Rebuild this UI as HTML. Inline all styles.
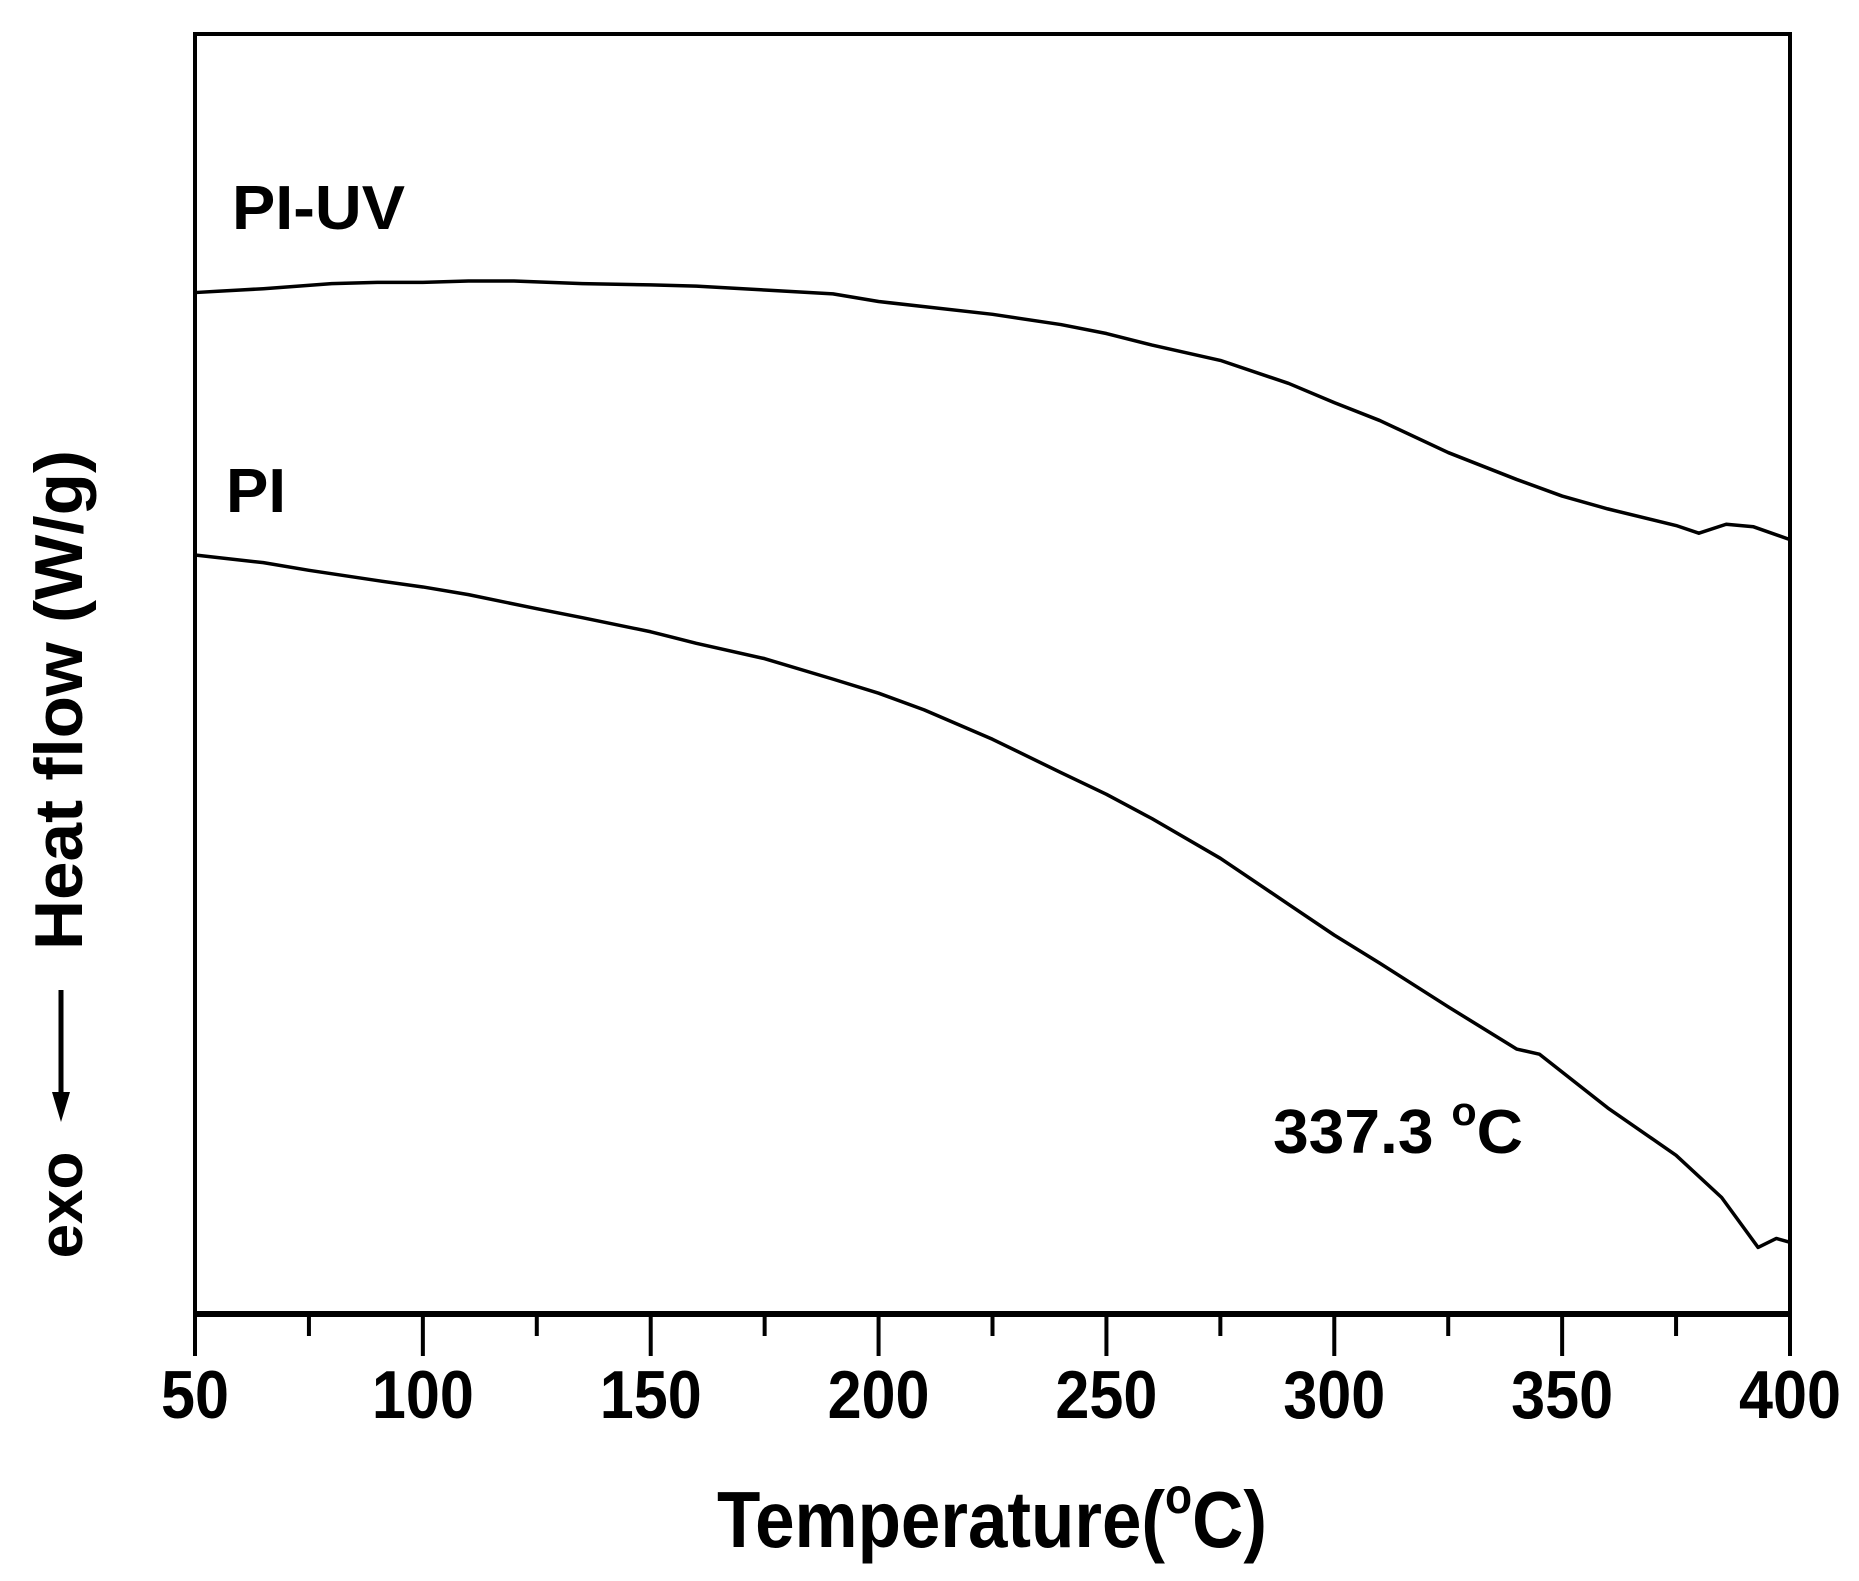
<!DOCTYPE html>
<html><head><meta charset="utf-8"><style>
html,body{margin:0;padding:0;background:#fff;}
svg{display:block;font-family:"Liberation Sans",Arial,sans-serif;font-weight:bold;}
</style></head><body>
<svg id="chart" width="1859" height="1581" viewBox="0 0 1859 1581" xmlns="http://www.w3.org/2000/svg">
<rect x="195" y="34" width="1595" height="1280" fill="none" stroke="#000" stroke-width="4"/>
<line x1="193" y1="1314" x2="1792" y2="1314" stroke="#000" stroke-width="6"/>
<g id="xticks"></g>
<g id="series"></g>
<text x="992" y="1547" font-size="80" text-anchor="middle" textLength="550" lengthAdjust="spacingAndGlyphs">Temperature(<tspan font-size="50" dy="-34">o</tspan><tspan dy="34">C)</tspan></text>
<text transform="translate(82,700) rotate(-90)" font-size="68" text-anchor="middle" textLength="500" lengthAdjust="spacingAndGlyphs">Heat flow (W/g)</text>
<text transform="translate(82,1205) rotate(-90)" font-size="62" text-anchor="middle">exo</text>
<g>
<line x1="61" y1="990" x2="61" y2="1095" stroke="#000" stroke-width="5"/>
<polygon points="52,1092 70,1092 61,1122" fill="#000"/>
</g>
<text x="232" y="229" font-size="62" textLength="173" lengthAdjust="spacingAndGlyphs">PI-UV</text>
<text x="226" y="512" font-size="62" textLength="60" lengthAdjust="spacingAndGlyphs">PI</text>
<text x="1273" y="1153" font-size="62" textLength="250" lengthAdjust="spacingAndGlyphs">337.3 <tspan font-size="40" dy="-28">o</tspan><tspan dy="28">C</tspan></text>
</svg>
<script>
const xTickValues=[50,75,100,125,150,175,200,225,250,275,300,325,350,375,400];
const xTickLabels=["50","100","150","200","250","300","350","400"];
const piUvT=[50,55,60,65,80,90,100,110,120,135,150,160,175,190,200,210,225,240,250,260,275,290,300,310,325,340,350,360,375,380,386,392,400];
const piUvV=[79.8,79.9,80.0,80.1,80.5,80.6,80.6,80.7,80.7,80.5,80.4,80.3,80.0,79.7,79.1,78.7,78.1,77.3,76.6,75.7,74.5,72.7,71.2,69.8,67.3,65.2,63.9,62.9,61.6,61.0,61.7,61.5,60.5];
const piT=[50,65,75,90,100,110,125,135,150,160,175,190,200,210,225,240,250,260,275,290,300,310,325,330,340,345,360,375,385,393,397,400];
const piV=[59.3,58.7,58.1,57.3,56.8,56.2,55.1,54.4,53.3,52.4,51.2,49.6,48.5,47.2,44.9,42.3,40.6,38.7,35.6,32.0,29.6,27.4,24.0,22.9,20.7,20.3,16.1,12.4,9.1,5.2,5.9,5.6];
const NS="http://www.w3.org/2000/svg";
const X0=195,X1=1790,Y0=1314,Y1=34;
function xs(t){return X0+(t-50)/(400-50)*(X1-X0);}
function ys(v){return Y0-v/100*(Y0-Y1);}
const tg=document.getElementById('xticks');
xTickValues.forEach((t,i)=>{
  const l=document.createElementNS(NS,'line');
  
  
  const major=(t%50===0);
  l.setAttribute('x1',xs(t));l.setAttribute('x2',xs(t));
  l.setAttribute('y1',1314);l.setAttribute('y2',major?1356:1336);
  l.setAttribute('stroke','#000');l.setAttribute('stroke-width','4');
  tg.appendChild(l);
});
xTickLabels.forEach(s=>{
  const t=document.createElementNS(NS,'text');
  
  
  t.setAttribute('x',xs(+s));t.setAttribute('y',1418);
  t.setAttribute('font-size','68');t.setAttribute('text-anchor','middle');
  t.setAttribute('textLength',s.length*34);t.setAttribute('lengthAdjust','spacingAndGlyphs');
  t.textContent=s;tg.appendChild(t);
});
const sg=document.getElementById('series');
function draw(T,V,name){
  const p=document.createElementNS(NS,'polyline');
  
  
  p.setAttribute('points',T.map((t,i)=>xs(t)+','+ys(V[i])).join(' '));
  p.setAttribute('fill','none');p.setAttribute('stroke','#000');p.setAttribute('stroke-width','3.5');
  p.setAttribute('stroke-linejoin','round');
  sg.appendChild(p);
}
draw(piUvT,piUvV,'pi-uv-curve');
draw(piT,piV,'pi-curve');
</script>
</body></html>
